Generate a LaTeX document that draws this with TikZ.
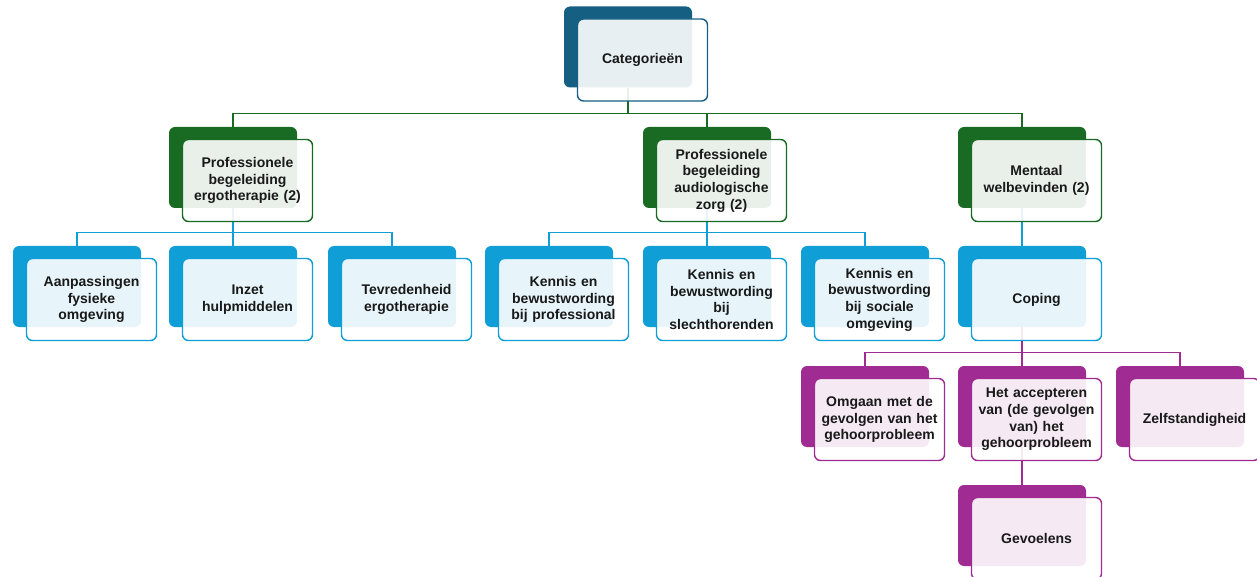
\documentclass[tikz,border=0pt]{standalone}
\usepackage{fontspec}
\setmainfont{Liberation Sans}
\pgfdeclarelayer{bg}
\pgfsetlayers{bg,main}
\definecolor{cteal}{HTML}{156082}
\definecolor{cgreen}{HTML}{196B24}
\definecolor{cblue}{HTML}{0F9ED5}
\definecolor{cpurple}{HTML}{A02B93}
\tikzset{
  backbox/.style={rectangle, rounded corners=6pt, minimum width=128pt, minimum height=81pt, inner sep=0pt},
  frontbox/.style={rectangle, rounded corners=6pt, minimum width=130pt, minimum height=82pt, line width=1.4pt,
    fill=white, fill opacity=0.9, text opacity=1, align=center, text width=128pt, inner sep=0pt,
    text=black!90, font=\bfseries\fontsize{14}{16.7}\selectfont},
  conn/.style={line width=1.3pt},
}
\newcommand\mybox[5]{%
  \node[backbox, fill=#4] (#1B) at ({#2+64},{#3+40.5}) {};
  \node[frontbox, draw=#4] (#1) at ({#2+78.5},{#3+53.5}) {#5};
}
\begin{document}
\begin{tikzpicture}[x=1pt,y=-1pt]
\useasboundingbox (0,0) rectangle (1257,577);
\mybox{cat}{564}{6.5}{cteal}{Categorieën}
\mybox{ga}{169}{127}{cgreen}{Professionele\\begeleiding\\ergotherapie (2)}
\mybox{gb}{643}{127}{cgreen}{Professionele\\begeleiding\\audiologische\\zorg (2)}
\mybox{gc}{958}{127}{cgreen}{Mentaal\\welbevinden (2)}
\mybox{ba}{13}{246}{cblue}{Aanpassingen\\fysieke\\omgeving}
\mybox{bb}{169}{246}{cblue}{Inzet\\hulpmiddelen}
\mybox{bc}{328}{246}{cblue}{Tevredenheid\\ergotherapie}
\mybox{bd}{485}{246}{cblue}{Kennis en\\bewustwording\\bij professional}
\mybox{be}{643}{246}{cblue}{Kennis en\\bewustwording\\bij\\slechthorenden}
\mybox{bf}{801}{246}{cblue}{Kennis en\\bewustwording\\bij sociale\\omgeving}
\mybox{bg}{958}{246}{cblue}{Coping}
\mybox{pa}{801}{366}{cpurple}{Omgaan met de\\gevolgen van het\\gehoorprobleem}
\mybox{pb}{958}{366}{cpurple}{Het accepteren\\van (de gevolgen\\van) het\\gehoorprobleem}
\mybox{pc}{1116}{366}{cpurple}{Zelfstandigheid}
\mybox{pd}{958}{485}{cpurple}{Gevoelens}
\begin{pgfonlayer}{bg}
\foreach \c in {ga,gb,gc}
  \draw[conn, cgreen] (\c B.north) -- ++(0,-13) -| (catB.south);
\foreach \c in {ba,bb,bc}
  \draw[conn, cblue] (\c B.north) -- ++(0,-13) -| (gaB.south);
\foreach \c in {bd,be,bf}
  \draw[conn, cblue] (\c B.north) -- ++(0,-13) -| (gbB.south);
\draw[conn, cblue] (bgB.north) -- (gcB.south);
\foreach \c in {pa,pb,pc}
  \draw[conn, cpurple] (\c B.north) -- ++(0,-13) -| (bgB.south);
\draw[conn, cpurple] (pdB.north) -- (pbB.south);
\end{pgfonlayer}
\end{tikzpicture}
\end{document}
